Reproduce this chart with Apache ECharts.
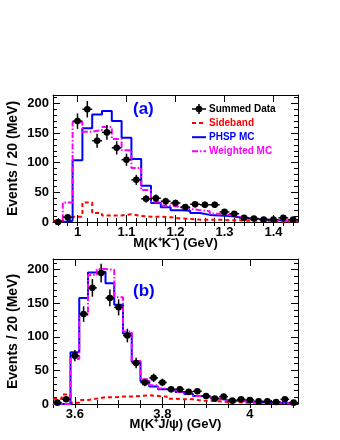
<!DOCTYPE html>
<html>
<head>
<meta charset="utf-8">
<script src="https://cdn.jsdelivr.net/npm/echarts@6/dist/echarts.min.js"></script>
<style>
  html, body { margin: 0; padding: 0; background: #fff; }
  #chart { width: 340px; height: 440px; }
</style>
</head>
<body>
<div id="chart"></div>
<script>
// ---- panel (a): M(K+K-), 20 MeV bins ----
const massKK = [0.96, 0.98, 1.00, 1.02, 1.04, 1.06, 1.08, 1.10, 1.12, 1.14, 1.16, 1.18, 1.20,
                1.22, 1.24, 1.26, 1.28, 1.30, 1.32, 1.34, 1.36, 1.38, 1.40, 1.42, 1.44];
const dataKK = [0, 8, 170, 190, 137, 151, 125, 105, 71, 39, 40, 35, 32,
                25, 30, 29, 29, 17, 14, 7, 6, 4, 4, 7, 4];
const sidebandKK = [2, 4, 9, 33, 15, 11, 11, 13, 10, 9, 9, 8, 6,
                    5, 4, 4, 4, 3, 3, 2, 2, 2, 1, 1, 1];
const phspKK = [0, 2, 104, 158, 181, 187, 170, 142, 106, 61, 32, 25, 20,
                19, 15, 12, 11, 10, 8, 6, 5, 4, 3, 2, 2];
const weightedKK = [0, 33, 168, 152, 155, 160, 140, 121, 91, 54, 34, 28, 25,
                    22, 20, 18, 14, 12, 9, 7, 5, 4, 3, 2, 2];
const ticksKK = [1.0, 1.1, 1.2, 1.3, 1.4];

// ---- panel (b): M(K+ J/psi), 20 MeV bins ----
const massKJ = [3.56, 3.58, 3.60, 3.62, 3.64, 3.66, 3.68, 3.70, 3.72, 3.74, 3.76, 3.78, 3.80, 3.82,
                3.84, 3.86, 3.88, 3.90, 3.92, 3.94, 3.96, 3.98, 4.00, 4.02, 4.04, 4.06, 4.08, 4.10];
const dataKJ = [2, 7, 72, 134, 173, 195, 158, 144, 102, 61, 32, 39, 32, 22,
                22, 18, 19, 12, 8, 11, 5, 7, 6, 4, 4, 3, 7, 2];
const sidebandKJ = [8, 14, 2, 6, 8, 10, 10, 11, 11, 12, 13, 12, 11, 8,
                    7, 7, 5, 5, 4, 3, 3, 2, 2, 2, 1, 1, 1, 1];
const phspKJ = [0, 0, 77, 158, 196, 197, 180, 148, 105, 63, 34, 26, 22, 21,
                18, 15, 12, 10, 8, 6, 5, 4, 3, 3, 2, 2, 1, 1];
const weightedKJ = [0, 0, 67, 133, 192, 201, 200, 159, 108, 64, 37, 28, 23, 21,
                    18, 15, 12, 10, 8, 6, 5, 4, 3, 3, 2, 2, 1, 1];
const ticksKJ = [3.6, 3.8, 4.0];

const legendNames = ['Summed Data', 'Sideband', 'PHSP MC', 'Weighted MC'];

const FONT = '"Liberation Sans", Arial, Helvetica, sans-serif';
const HALF_BIN = 0.01;
const COLORS = ['#000000', '#ff0000', '#0000ff', '#ff00ff'];
const DASHES = [null, [4, 3], null, [6, 2, 1.5, 2]];

const chart = echarts.init(document.getElementById('chart'));

// bin edges for a step histogram
const histPoints = (centers, vals) => {
  const pts = centers.map((m, i) => [m - HALF_BIN, vals[i]]);
  pts.push([centers[centers.length - 1] + HALF_BIN, vals[vals.length - 1]]);
  return pts;
};

const minorList = (min, max, step) => {
  const out = [];
  for (let v = Math.ceil(min / step - 1e-9) * step; v <= max + 1e-9; v += step) out.push(+v.toFixed(4));
  return out;
};

const renderPoint = (params, api) => {
  const x = api.value(0);
  const y = api.value(1);
  const err = Math.sqrt(y);
  const c = api.coord([x, y]);
  const l = api.coord([x - HALF_BIN, y]);
  const r = api.coord([x + HALF_BIN, y]);
  const t = api.coord([x, y + err]);
  const b = api.coord([x, Math.max(0, y - err)]);
  const st = { stroke: '#000', lineWidth: 1.5 };
  return {
    type: 'group',
    children: [
      { type: 'line', shape: { x1: l[0], y1: c[1], x2: r[0], y2: c[1] }, style: st },
      { type: 'line', shape: { x1: c[0], y1: t[1], x2: c[0], y2: b[1] }, style: st },
      { type: 'circle', shape: { cx: c[0], cy: c[1], r: 3.3 }, style: { fill: '#000' } }
    ]
  };
};

const xAxes = (grid, min, max, majors, minorStep, title, gap) => {
  const base = {
    type: 'value', gridIndex: grid, min, max,
    splitLine: { show: false },
    axisLine: { show: true, onZero: false, lineStyle: { color: '#000', width: 1 } }
  };
  const minors = minorList(min, max, minorStep);
  const tickMajor = { show: true, inside: true, length: 7, customValues: majors, lineStyle: { color: '#000' } };
  const tickMinor = { show: true, inside: true, length: 4, customValues: minors, lineStyle: { color: '#000' } };
  return [
    {
      ...base, position: 'bottom',
      name: title, nameLocation: 'middle', nameGap: gap, nameMoveOverlap: false,
      nameTextStyle: { fontFamily: FONT, fontWeight: 'bold', fontSize: 13, color: '#000' },
      axisTick: tickMajor,
      axisLabel: { customValues: majors, fontFamily: FONT, fontWeight: 'bold', fontSize: 13, color: '#000', margin: 4 }
    },
    { ...base, position: 'bottom', axisLine: { show: false }, axisTick: tickMinor, axisLabel: { show: false } },
    { ...base, position: 'top', axisTick: tickMajor, axisLabel: { show: false } },
    { ...base, position: 'top', axisLine: { show: false }, axisTick: tickMinor, axisLabel: { show: false } }
  ];
};

const yAxes = (grid, max) => {
  const base = {
    type: 'value', gridIndex: grid, min: 0, max, interval: 50,
    splitLine: { show: false },
    axisLine: { show: true, lineStyle: { color: '#000', width: 1 } },
    axisTick: { show: true, inside: true, length: 7, lineStyle: { color: '#000' } },
    minorTick: { show: true, inside: true, splitNumber: 5, length: 4, lineStyle: { color: '#000' } }
  };
  return [
    {
      ...base, position: 'left',
      name: 'Events / 20 (MeV)', nameLocation: 'middle', nameGap: 33, nameMoveOverlap: false,
      nameTextStyle: { fontFamily: FONT, fontWeight: 'bold', fontSize: 14, color: '#000' },
      axisLabel: { fontFamily: FONT, fontWeight: 'bold', fontSize: 13, color: '#000', margin: 4, showMaxLabel: false }
    },
    { ...base, position: 'right', axisLabel: { show: false } }
  ];
};

const panelSeries = (p, mass, data, side, phsp, weighted) => {
  const axes = { xAxisIndex: p * 4, yAxisIndex: p * 2 };
  const hist = (k, vals) => ({
    name: legendNames[k], type: 'line', ...axes,
    data: histPoints(mass, vals),
    step: 'end', symbol: 'none', silent: true,
    lineStyle: { color: COLORS[k], width: 2, type: DASHES[k] || 'solid' },
    itemStyle: { color: COLORS[k] }
  });
  return [
    hist(1, side),
    hist(2, phsp),
    hist(3, weighted),
    {
      name: legendNames[0], type: 'custom', ...axes,
      data: mass.map((m, i) => [m, data[i]]),
      renderItem: renderPoint,
      itemStyle: { color: '#000' },
      z: 5
    }
  ];
};

// legend of panel (a), drawn as graphic elements so the line styles match
const legendGraphic = legendNames.flatMap((name, k) => {
  const y = 109 + k * 14.1;
  const items = [
    { type: 'line', shape: { x1: 192, y1: y, x2: 206, y2: y },
      style: { stroke: COLORS[k], lineWidth: k === 0 ? 1.5 : 2, lineDash: DASHES[k] } },
    { type: 'text', x: 209, y, style: { text: name, fill: COLORS[k], font: 'bold 10px ' + FONT, verticalAlign: 'middle' } }
  ];
  if (k === 0) {
    items.push({ type: 'line', shape: { x1: 199, y1: y - 5, x2: 199, y2: y + 5 }, style: { stroke: '#000', lineWidth: 1.5 } });
    items.push({ type: 'circle', shape: { cx: 199, cy: y, r: 3.3 }, style: { fill: '#000' } });
  }
  return items;
});

chart.setOption({
  animation: false,
  backgroundColor: '#fff',
  grid: [
    { left: 53, top: 95, width: 245, height: 127, containLabel: false, outerBoundsMode: 'none' },
    { left: 53, top: 259, width: 245, height: 145, containLabel: false, outerBoundsMode: 'none' }
  ],
  title: [
    { text: '(a)', left: 133, top: 101, padding: 0, textStyle: { color: '#0000ff', fontFamily: FONT, fontWeight: 'bold', fontSize: 17 } },
    { text: '(b)', left: 133, top: 283, padding: 0, textStyle: { color: '#0000ff', fontFamily: FONT, fontWeight: 'bold', fontSize: 17 } }
  ],
  graphic: legendGraphic,
  xAxis: [
    ...xAxes(0, 0.95, 1.45, ticksKK, 0.02, 'M(K\u207AK\u207B) (GeV)', 15),
    ...xAxes(1, 3.55, 4.11, ticksKJ, 0.05, 'M(K\u207AJ/\u03C8) (GeV)', 14)
  ],
  yAxis: [
    ...yAxes(0, 214),
    ...yAxes(1, 216)
  ],
  series: [
    ...panelSeries(0, massKK, dataKK, sidebandKK, phspKK, weightedKK),
    ...panelSeries(1, massKJ, dataKJ, sidebandKJ, phspKJ, weightedKJ)
  ]
});
</script>
</body>
</html>
